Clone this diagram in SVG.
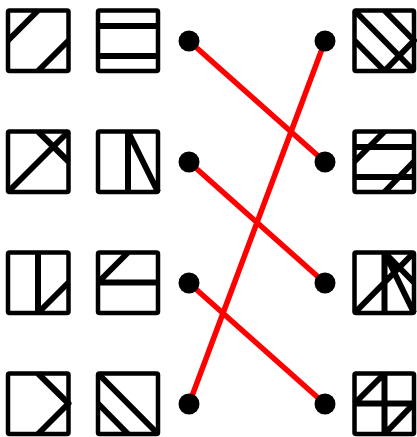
<svg xmlns="http://www.w3.org/2000/svg" width="417" height="437" viewBox="0 0 417 437">
<style>
.t{fill:none;stroke:#000;stroke-width:4.5;stroke-linejoin:round;stroke-linecap:butt}
.t path{stroke-width:6}
.c{stroke:#ff0000;stroke-width:5.5}
.d{fill:#000}
</style>
<rect width="417" height="437" fill="#fff"/>
<g id="connectors">
<line class="c" x1="189" y1="41" x2="325" y2="162"/>
<line class="c" x1="189" y1="162" x2="325" y2="283"/>
<line class="c" x1="189" y1="283" x2="325" y2="404"/>
<line class="c" x1="189" y1="404" x2="325" y2="41"/>
</g>
<g id="tileA" class="t" transform="translate(8,10.5)"><rect width="60.5" height="60.5" rx="1.5"/><path d="M30,0L0,30M60.5,30L30,60.5"/></g>
<g id="tileB" class="t" transform="translate(98,10.5)"><rect width="60" height="60.5" rx="1.5"/><path d="M0,15.5H60M0,45.5H60"/></g>
<g id="tileC" class="t" transform="translate(8,131.5)"><rect width="60.5" height="60.5" rx="1.5"/><path d="M0,60.5L60.5,0M30,0L60.5,30"/></g>
<g id="tileD" class="t" transform="translate(98,131.5)"><rect width="60" height="60.5" rx="1.5"/><path d="M30,0V60.5M30,0L60,60.5"/></g>
<g id="tileE" class="t" transform="translate(8,252.5)"><rect width="60.5" height="60.5" rx="1.5"/><path d="M30,0V60.5M30,60.5L60.5,30"/></g>
<g id="tileF" class="t" transform="translate(98,252.5)"><rect width="60" height="60.5" rx="1.5"/><path d="M0,30H60M30,0L0,30"/></g>
<g id="tileG" class="t" transform="translate(8,373.5)"><rect width="60.5" height="60.5" rx="1.5"/><path d="M30,0L60.5,30L30,60.5"/></g>
<g id="tileH" class="t" transform="translate(98,373.5)"><rect width="60" height="60.5" rx="1.5"/><path d="M0,0L60,60.5M0,30L30,60.5"/></g>
<g id="tileI" class="t" transform="translate(354.5,10.5)"><rect width="59.5" height="60.5" rx="1.5"/><path d="M0,0L59.5,60.5M0,30L30,60.5M30,0L59.5,30L30,60.5"/></g>
<g id="tileJ" class="t" transform="translate(354.5,131.5)"><rect width="59.5" height="60.5" rx="1.5"/><path d="M0,15.5H59.5M0,45.5H59.5M30,0L0,30M59.5,30L30,60.5"/></g>
<g id="tileK" class="t" transform="translate(354.5,252.5)"><rect width="59.5" height="60.5" rx="1.5"/><path d="M0,60.5L59.5,0M30,0L59.5,30M30,0V60.5M30,0L59.5,60.5"/></g>
<g id="tileL" class="t" transform="translate(354.5,373.5)"><rect width="59.5" height="60.5" rx="1.5"/><path d="M30,0V60.5M30,60.5L59.5,30M0,30H59.5M30,0L0,30"/></g>
<g id="dots">
<circle class="d" cx="189" cy="41" r="10.5"/>
<circle class="d" cx="189" cy="162" r="10.5"/>
<circle class="d" cx="189" cy="283" r="10.5"/>
<circle class="d" cx="189" cy="404" r="10.5"/>
<circle class="d" cx="325" cy="41" r="10.5"/>
<circle class="d" cx="325" cy="162" r="10.5"/>
<circle class="d" cx="325" cy="283" r="10.5"/>
<circle class="d" cx="325" cy="404" r="10.5"/>
</g>
</svg>
